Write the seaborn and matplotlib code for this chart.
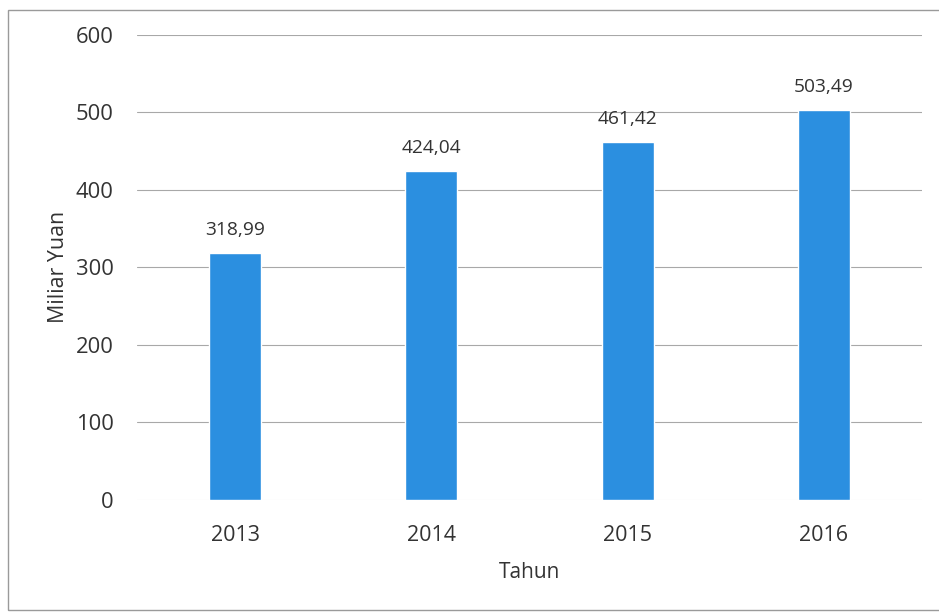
import matplotlib
matplotlib.use("Agg")
import matplotlib.pyplot as plt
import seaborn as sns
import pandas as pd
from matplotlib.patches import Rectangle

years = ["2013", "2014", "2015", "2016"]
values = [318.99, 424.04, 461.42, 503.49]
yticks = [0, 100, 200, 300, 400, 500, 600]

sns.set_theme(style="white")
plt.rcParams["font.family"] = ["Open Sans", "DejaVu Sans"]

text_color = "#333333"
bar_color = "#2b8fe0"

df = pd.DataFrame({"Tahun": years, "Miliar Yuan": values})

fig = plt.figure(figsize=(9.39, 6.14), dpi=100)
ax = fig.add_axes([0.146, 0.186, 0.836, 0.757])

sns.barplot(data=df, x="Tahun", y="Miliar Yuan", color=bar_color,
            width=0.265, saturation=1, ax=ax, zorder=3)

ax.set_ylim(0, 600)
ax.set_yticks(yticks)
ax.set_yticklabels([str(t) for t in yticks])
ax.set_xlim(-0.5, 3.5)

for t in yticks:
    ax.axhline(t, color="#a8a8a8" if t else "#dcdcdc", lw=0.8, zorder=1)

for i, v in enumerate(values):
    ax.annotate(f"{v:.2f}".replace(".", ","), (i, v), xytext=(0, 10),
                textcoords="offset points", ha="center", va="bottom",
                fontsize=13.8, color=text_color)

for s in ax.spines.values():
    s.set_visible(False)
ax.tick_params(axis="both", length=0, colors=text_color)
ax.tick_params(axis="y", pad=17, labelsize=15.8)
ax.tick_params(axis="x", pad=18, labelsize=15.5)
ax.set_xlabel("Tahun", fontsize=15, color=text_color, labelpad=12)
ax.set_ylabel("Miliar Yuan", fontsize=15.4, color=text_color, labelpad=5)

fig.patches.append(Rectangle((8 / 939, 4 / 614), 1.0, 600 / 614,
                             transform=fig.transFigure, fill=False,
                             edgecolor="#9a9a9a", lw=1.0))

fig.savefig("out.png", dpi=100)
